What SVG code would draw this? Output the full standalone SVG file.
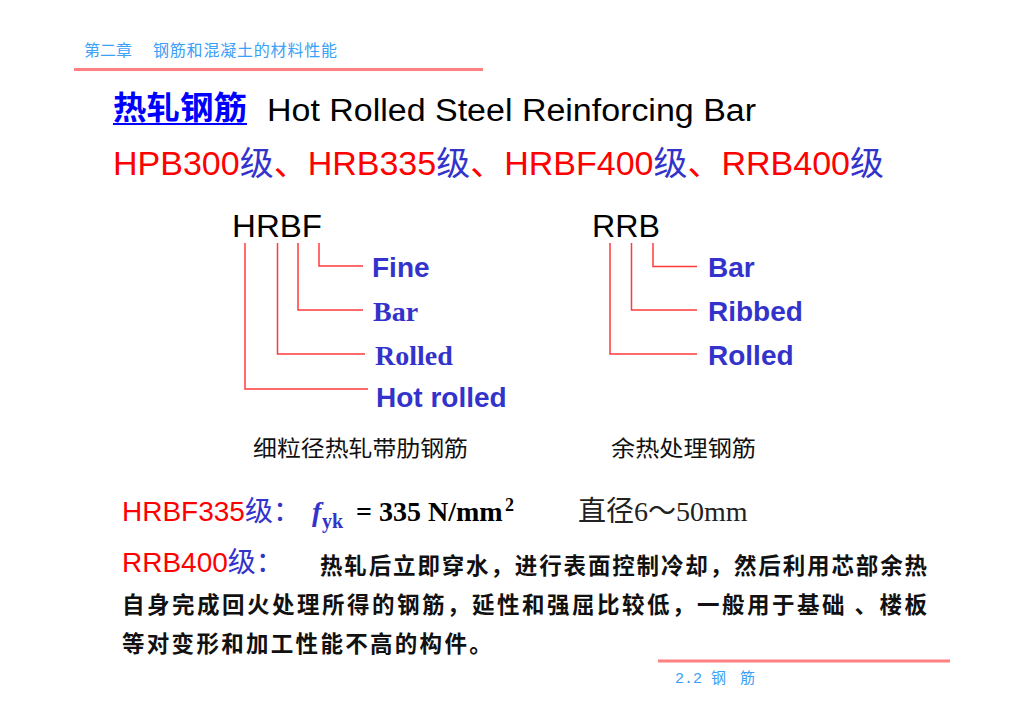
<svg xmlns="http://www.w3.org/2000/svg" width="1024" height="724" viewBox="0 0 1024 724">
<style>
.hdr{font-family:"Liberation Serif","Noto Sans CJK SC",serif;font-size:16px;fill:#3aa0f8}
.rule{stroke:#ff8080;stroke-width:3}
.sans{font-family:"Liberation Sans","Noto Sans CJK SC",sans-serif}
.serif{font-family:"Liberation Serif","Noto Sans CJK SC",serif}
.cjk{font-family:"Noto Sans CJK SC",sans-serif}
.red{fill:#ff0000}
.blu{fill:#3333cc}
.blk{fill:#000000}
.code{font-family:"Liberation Sans",sans-serif;font-size:31px;fill:#000}
.lbl{font-size:28px;font-weight:bold;fill:#3333cc}
.conn{fill:none;stroke:#ff3a3a;stroke-width:1.5}
.body{font-family:"Noto Sans CJK SC",sans-serif;font-size:22.5px;font-weight:bold;fill:#111}
</style>

<g id="header">
<text class="hdr" x="84" y="56">第二章<tspan x="153" textLength="184">钢筋和混凝土的材料性能</tspan></text>
<line class="rule" x1="74" y1="69.5" x2="483" y2="69.5"/>
</g>

<g id="title">
<text class="cjk" x="113" y="119" font-size="32" font-weight="bold" fill="#0000ff" textLength="134" lengthAdjust="spacingAndGlyphs">热轧钢筋</text>
<line x1="113" y1="124" x2="247" y2="124" stroke="#0000ff" stroke-width="2"/>
<text class="sans blk" x="267" y="121" font-size="31" textLength="489" lengthAdjust="spacingAndGlyphs">Hot Rolled Steel Reinforcing Bar</text>
</g>

<g id="grades">
<text class="sans" x="113" y="175" font-size="33" textLength="771" lengthAdjust="spacingAndGlyphs"><tspan class="red">HPB300</tspan><tspan class="blu">级</tspan><tspan class="red">、HRB335</tspan><tspan class="blu">级</tspan><tspan class="red">、HRBF400</tspan><tspan class="blu">级</tspan><tspan class="red">、RRB400</tspan><tspan class="blu">级</tspan></text>
</g>

<g id="connectors">
<polyline class="conn" points="319,243 319,266 363,266"/>
<polyline class="conn" points="298,243 298,310 363,310"/>
<polyline class="conn" points="277.5,243 277.5,354 365,354"/>
<polyline class="conn" points="245,243 245,389 368,389"/>
<polyline class="conn" points="653,243 653,266.5 697,266.5"/>
<polyline class="conn" points="631.5,243 631.5,310 697,310"/>
<polyline class="conn" points="610,243 610,354 697,354"/>
</g>

<g id="node-hrbf">
<text class="code" x="232" y="237" textLength="90" lengthAdjust="spacingAndGlyphs">HRBF</text>
</g>
<g id="node-hrbf-fine"><text class="sans lbl" x="372" y="277">Fine</text></g>
<g id="node-hrbf-bar"><text class="serif lbl" x="373" y="321">Bar</text></g>
<g id="node-hrbf-rolled"><text class="serif lbl" x="375" y="365">Rolled</text></g>
<g id="node-hrbf-hot"><text class="sans lbl" x="376" y="407" font-size="29">Hot rolled</text></g>
<g id="node-hrbf-cn"><text class="cjk" x="253" y="456" font-size="22" fill="#111" textLength="215" lengthAdjust="spacingAndGlyphs">细粒径热轧带肋钢筋</text></g>

<g id="node-rrb">
<text class="code" x="592" y="237" textLength="68" lengthAdjust="spacingAndGlyphs">RRB</text>
</g>
<g id="node-rrb-bar"><text class="sans lbl" x="708" y="277">Bar</text></g>
<g id="node-rrb-ribbed"><text class="sans lbl" x="708" y="321">Ribbed</text></g>
<g id="node-rrb-rolled"><text class="sans lbl" x="708" y="365">Rolled</text></g>
<g id="node-rrb-cn"><text class="cjk" x="611" y="456" font-size="22" fill="#111" textLength="145" lengthAdjust="spacingAndGlyphs">余热处理钢筋</text></g>

<g id="hrbf335">
<text class="sans" x="122" y="521" font-size="28"><tspan class="red">HRBF335</tspan><tspan class="blu">级：</tspan></text>
<text class="serif blu" x="312" y="521" font-size="28" font-weight="bold" font-style="italic">f</text>
<text class="serif blu" x="322" y="528" font-size="20" font-weight="bold">yk</text>
<text class="serif blk" x="356" y="521" font-size="28" font-weight="bold">= 335 N/mm</text>
<text class="serif blk" x="505" y="511" font-size="18" font-weight="bold">2</text>
<text class="serif" x="578" y="521" font-size="28" fill="#222">直径6～50mm</text>
</g>

<g id="rrb400">
<text class="sans" x="122" y="572" font-size="28"><tspan class="red">RRB400</tspan><tspan class="blu">级：</tspan></text>
<text class="body" x="320" y="574" textLength="607" lengthAdjust="spacing">热轧后立即穿水，进行表面控制冷却，然后利用芯部余热</text>
<text class="body" x="122" y="613" textLength="805" lengthAdjust="spacing">自身完成回火处理所得的钢筋，延性和强屈比较低，一般用于基础 、楼板</text>
<text class="body" x="122" y="652" letter-spacing="2.3">等对变形和加工性能不高的构件。</text>
</g>

<g id="footer">
<line class="rule" x1="658" y1="661" x2="950" y2="661"/>
<text x="675" y="683" font-size="15" fill="#3aa0f8" font-family="Liberation Mono, Noto Sans CJK SC, monospace">2.2 钢<tspan x="740">筋</tspan></text>
</g>
</svg>
